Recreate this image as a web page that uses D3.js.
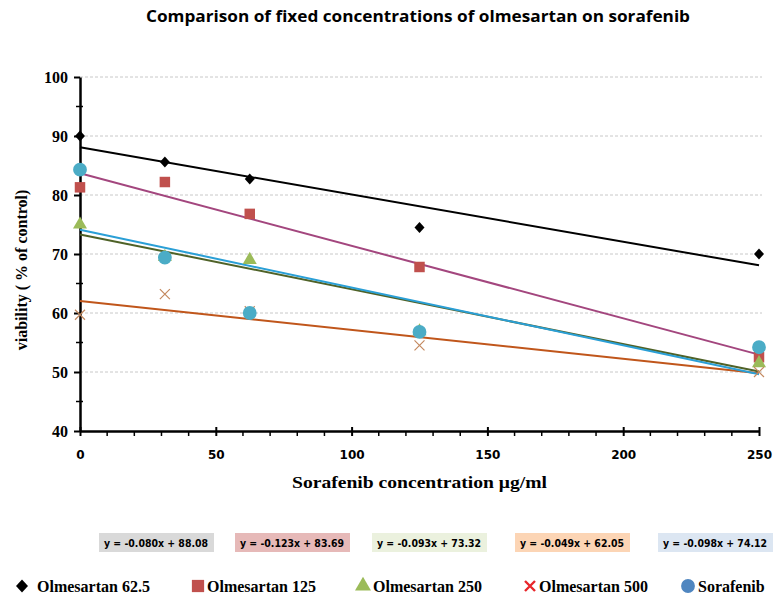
<!DOCTYPE html>
<html>
<head>
<meta charset="utf-8">
<script src="https://cdn.jsdelivr.net/npm/d3@7"></script>
<style>
 body { margin: 0; background: #fff; }
 svg { display: block; }
</style>
</head>
<body>
<div id="chart"></div>
<script>
// chart data
var concs = [0, 31.25, 62.5, 125, 250];
var seriesNames = ["Olmesartan 62.5", "Olmesartan 125", "Olmesartan 250", "Olmesartan 500", "Sorafenib"];
var olm62 = [90, 85.6, 82.7, 74.5, 70];
var olm125 = [81.3, 82.2, 76.8, 67.8, 52.5];
var olm250 = [75, 69.5, 69, 56.9, 51.5];
var olm500 = [59.7, 63.2, 60.3, 54.5, 50];
var soraf = [84.3, 69.4, 60, 56.8, 54.2];
var slopes = [-0.080, -0.123, -0.093, -0.049, -0.098];
var intercepts = [88.08, 83.69, 73.32, 62.05, 74.12];
var eqLabels = ["y = -0.080x + 88.08", "y = -0.123x + 83.69", "y = -0.093x + 73.32", "y = -0.049x + 62.05", "y = -0.098x + 74.12"];
var yTicks = [40, 50, 60, 70, 80, 90, 100];
var xTicks = [0, 50, 100, 150, 200, 250];

var w = 776, h = 599;
var markCol = ["#000000", "#C0504D", "#9BBB59", "#C4895F", "#4BACC6"];
var lineCol = ["#000000", "#A3467E", "#4F6228", "#C0561B", "#2A9FD6"];
var boxCol = ["#D9D9D9", "#E6B9B8", "#EBF1DE", "#FCD5B5", "#DCE6F2"];
var legendMarkCol = ["#000000", "#C0504D", "#9BBB59", "#E8262A", "#4F86C0"];
var allData = [olm62, olm125, olm250, olm500, soraf];

var mysvg = d3.select("#chart").append("svg").attr("width", w).attr("height", h),
 x = d3.scaleLinear().domain([0, 250]).range([80, 759]),
 y = d3.scaleLinear().domain([40, 100]).range([431, 77]);

// title
mysvg.append("text").attr("x", 146).attr("y", 22)
 .attr("textLength", 544).attr("lengthAdjust", "spacingAndGlyphs")
 .style("font-family", "'Liberation Sans Narrow', 'Open Sans', sans-serif").style("font-weight", "bold").style("font-size", "16px")
 .text("Comparison of fixed concentrations of olmesartan on sorafenib");

// gridlines
mysvg.append("g").selectAll("line").data(yTicks.slice(1)).enter().append("line")
 .attr("x1", x(0)).attr("x2", 762).attr("y1", function (d) { return y(d); }).attr("y2", function (d) { return y(d); })
 .attr("stroke", "#C8C8C8").attr("stroke-width", 1).attr("stroke-dasharray", "3,2");

// minor ticks
mysvg.append("g").selectAll("line").data(d3.range(45, 100, 10)).enter().append("line")
 .attr("x1", x(0) - 4).attr("x2", x(0) + 3).attr("y1", function (d) { return y(d); }).attr("y2", function (d) { return y(d); })
 .attr("stroke", "#000").attr("stroke-width", 1.5);
mysvg.append("g").selectAll("line").data(d3.range(10, 250, 10).filter(function (d) { return d % 50 != 0; })).enter().append("line")
 .attr("x1", function (d) { return x(d); }).attr("x2", function (d) { return x(d); }).attr("y1", y(40)).attr("y2", y(40) + 5)
 .attr("stroke", "#000").attr("stroke-width", 1.5);

// axes
var yAxis = mysvg.append("g").attr("transform", "translate(" + x(0) + ",0)")
 .call(d3.axisLeft(y).tickValues(yTicks).tickSize(6).tickSizeOuter(0).tickPadding(6));
var xAxis = mysvg.append("g").attr("transform", "translate(0," + y(40) + ")")
 .call(d3.axisBottom(x).tickValues(xTicks).tickSize(5).tickSizeOuter(0).tickPadding(14));
[yAxis, xAxis].forEach(function (a) {
 a.select(".domain").attr("stroke", "#000").attr("stroke-width", 2.5);
 a.selectAll(".tick line").attr("stroke", "#000").attr("stroke-width", 2);
});
xAxis.selectAll(".tick line").attr("y1", -4);
yAxis.selectAll(".tick text").style("font-family", "'Liberation Serif', 'Times New Roman', serif").style("font-weight", "bold").style("font-size", "16px").attr("fill", "#000");
xAxis.selectAll(".tick text").style("font-family", "'DejaVu Sans', Verdana, sans-serif").style("font-weight", "bold").style("font-size", "12px").attr("fill", "#000");

// axis titles
mysvg.append("text").attr("x", 292).attr("y", 488).attr("textLength", 255).attr("lengthAdjust", "spacingAndGlyphs")
 .style("font-family", "'Liberation Serif', 'Times New Roman', serif").style("font-weight", "bold").style("font-size", "16px")
 .text("Sorafenib concentration \u03bcg/ml");
mysvg.append("text").attr("transform", "translate(27,270) rotate(-90)").attr("text-anchor", "middle")
 .style("font-family", "'Liberation Serif', 'Times New Roman', serif").style("font-weight", "bold").style("font-size", "16px")
 .text("viability ( % of control)");

// trendlines
mysvg.append("g").selectAll("line").data(slopes).enter().append("line")
 .attr("x1", x(0)).attr("x2", x(250))
 .attr("y1", function (d, i) { return y(intercepts[i]); })
 .attr("y2", function (d, i) { return y(intercepts[i] + d * 250); })
 .attr("stroke", function (d, i) { return lineCol[i]; }).attr("stroke-width", 2);

// markers
function drawMark(g, i, cx, cy, legend) {
 var col = legend ? legendMarkCol[i] : markCol[i];
 if (i == 3) {
  var s = 5;
  g.append("path").attr("d", "M" + (cx - s) + "," + (cy - s) + "L" + (cx + s) + "," + (cy + s) + "M" + (cx - s) + "," + (cy + s) + "L" + (cx + s) + "," + (cy - s))
   .attr("stroke", col).attr("stroke-width", legend ? 2.4 : 1.2).attr("fill", "none");
  return;
 }
 if (i == 0) {
  var r = legend ? 6 : 5;
  g.append("path").attr("d", "M" + cx + "," + (cy - r - 0.5) + "L" + (cx + r) + "," + cy + "L" + cx + "," + (cy + r + 0.5) + "L" + (cx - r) + "," + cy + "Z")
   .attr("fill", col);
  return;
 }
 var types = [null, d3.symbolSquare, d3.symbolTriangle, null, d3.symbolCircle];
 var sizes = legend ? [0, 150, 110, 0, 150] : [0, 110, 85, 0, 150];
 var sym = d3.symbol().type(types[i]).size(sizes[i]);
 g.append("path").attr("d", sym()).attr("transform", "translate(" + cx + "," + cy + ")").attr("fill", col);
}
var pts = mysvg.append("g");
allData.forEach(function (vals, i) {
 vals.forEach(function (v, j) { drawMark(pts, i, x(concs[j]), y(v), false); });
});

// equation boxes
var boxX = [99, 235, 372, 515, 658];
var eqs = mysvg.append("g");
eqLabels.forEach(function (t, i) {
 eqs.append("rect").attr("x", boxX[i]).attr("y", 533).attr("width", 115).attr("height", 19).attr("fill", boxCol[i]);
 eqs.append("text").attr("x", boxX[i] + 5).attr("y", 546.5).attr("textLength", 104).attr("lengthAdjust", "spacingAndGlyphs")
  .style("font-family", "'DejaVu Sans', Verdana, sans-serif").style("font-weight", "bold").style("font-size", "10px")
  .text(t);
});

// legend
var legMarkX = [22, 198, 363, 530, 688];
var legTextX = [37, 207, 373, 539, 698];
var leg = mysvg.append("g");
seriesNames.forEach(function (n, i) {
 drawMark(leg, i, legMarkX[i], 586, true);
 leg.append("text").attr("x", legTextX[i]).attr("y", 592)
  .style("font-family", "'Liberation Serif', 'Times New Roman', serif").style("font-weight", "bold").style("font-size", "16px")
  .text(n);
});
</script>
</body>
</html>
